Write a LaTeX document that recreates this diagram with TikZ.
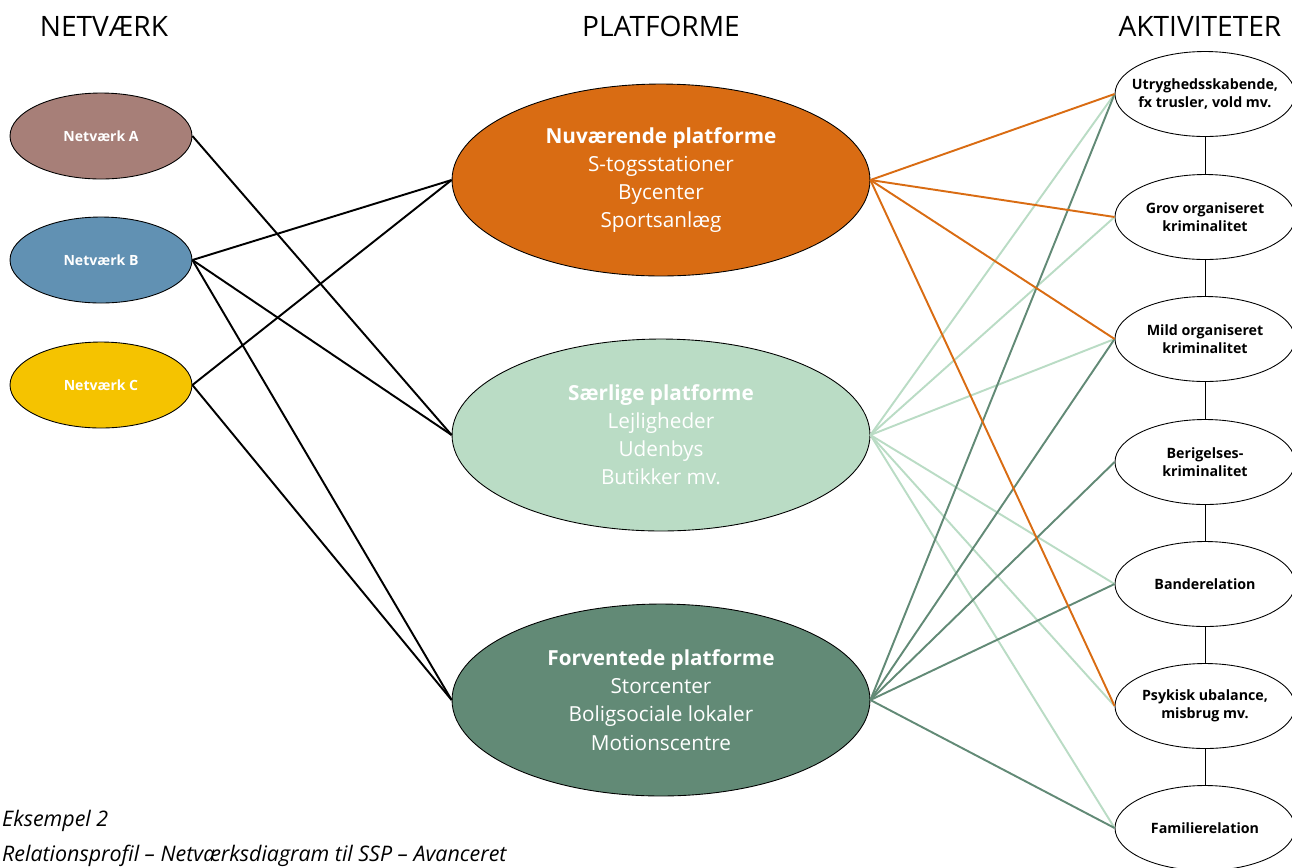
\documentclass[tikz,border=0pt]{standalone}
\usepackage{fontspec}
\setmainfont{Open Sans}
\usetikzlibrary{shapes.geometric}
\definecolor{netA}{HTML}{A77F78}
\definecolor{netB}{HTML}{6191B3}
\definecolor{netC}{HTML}{F5C300}
\definecolor{nuv}{HTML}{D96C13}
\definecolor{saer}{HTML}{BADCC5}
\definecolor{forv}{HTML}{628A76}

\begin{document}
\begin{tikzpicture}[x=0.02cm,y=-0.02cm,
  net/.style={ellipse, draw, line width=0.5pt, minimum width=3.64cm, minimum height=1.72cm,
    inner sep=0pt, text=white, font=\fontsize{8}{10}\selectfont\bfseries},
  plat/.style={ellipse, draw, line width=0.5pt, minimum width=8.36cm, minimum height=3.84cm,
    inner sep=0pt, text=white, align=center, font=\fontsize{11.8}{16}\selectfont},
  akt/.style={ellipse, draw, line width=0.5pt, fill=white, minimum width=3.6cm, minimum height=1.7cm,
    inner xsep=-8pt, inner ysep=0pt, align=center, font=\fontsize{8.1}{10.3}\selectfont\bfseries},
  head/.style={anchor=base, font=\fontsize{16}{18}\selectfont},
  link/.style={line width=1.1pt}]
\useasboundingbox (0,0) rectangle (1292,867);

\node[head] (hnet) at (104,36) {NETVÆRK};
\node[head] (hplat) at (661,36) {PLATFORME};
\node[head] (hakt) at (1200,36) {AKTIVITETER};

\node[net, fill=netA] (na) at (101,136) {Netværk A};
\node[net, fill=netB] (nb) at (101,260) {Netværk B};
\node[net, fill=netC] (nc) at (101,385) {Netværk C};

\node[plat, fill=nuv] (pnuv) at (661,180) {{\bfseries Nuværende platforme}\\S-togsstationer\\Bycenter\\Sportsanlæg};
\node[plat, fill=saer] (psaer) at (661,435) {{\bfseries Særlige platforme}\\Lejligheder\\Udenbys\\Butikker mv.};
\node[plat, fill=forv] (pforv) at (661,700) {{\bfseries Forventede platforme}\\Storcenter\\Boligsociale lokaler\\Motionscentre};

\node[akt] (a1) at (1205,94) {Utryghedsskabende,\\fx trusler, vold mv.};
\node[akt] (a2) at (1205,217) {Grov organiseret\\kriminalitet};
\node[akt] (a3) at (1205,339) {Mild organiseret\\kriminalitet};
\node[akt] (a4) at (1205,462) {Berigelses-\\kriminalitet};
\node[akt] (a5) at (1205,584) {Banderelation};
\node[akt] (a6) at (1205,706) {Psykisk ubalance,\\misbrug mv.};
\node[akt] (a7) at (1205,828) {Familierelation};

\foreach \i/\j in {a1/a2,a2/a3,a3/a4,a4/a5,a5/a6,a6/a7}
  \draw[line width=0.4pt] (\i) -- (\j);

\draw[link] (na.east) -- (psaer.west);
\draw[link] (nb.east) -- (pnuv.west);
\draw[link] (nb.east) -- (psaer.west);
\draw[link] (nb.east) -- (pforv.west);
\draw[link] (nc.east) -- (pnuv.west);
\draw[link] (nc.east) -- (pforv.west);

\foreach \a in {a1,a2,a3,a5,a6,a7}
  \draw[link, saer] (psaer.east) -- (\a.west);
\foreach \a in {a1,a3,a4,a5,a7}
  \draw[link, forv] (pforv.east) -- (\a.west);
\foreach \a in {a1,a2,a3,a6}
  \draw[link, nuv] (pnuv.east) -- (\a.west);

\node[anchor=base west, font=\fontsize{12.2}{14}\selectfont\itshape] (eks) at (-4,826) {Eksempel 2};
\node[anchor=base west, font=\fontsize{12.2}{14}\selectfont\itshape] (titel) at (-4,861) {Relationsprofil – Netværksdiagram til SSP – Avanceret};
\end{tikzpicture}
\end{document}
